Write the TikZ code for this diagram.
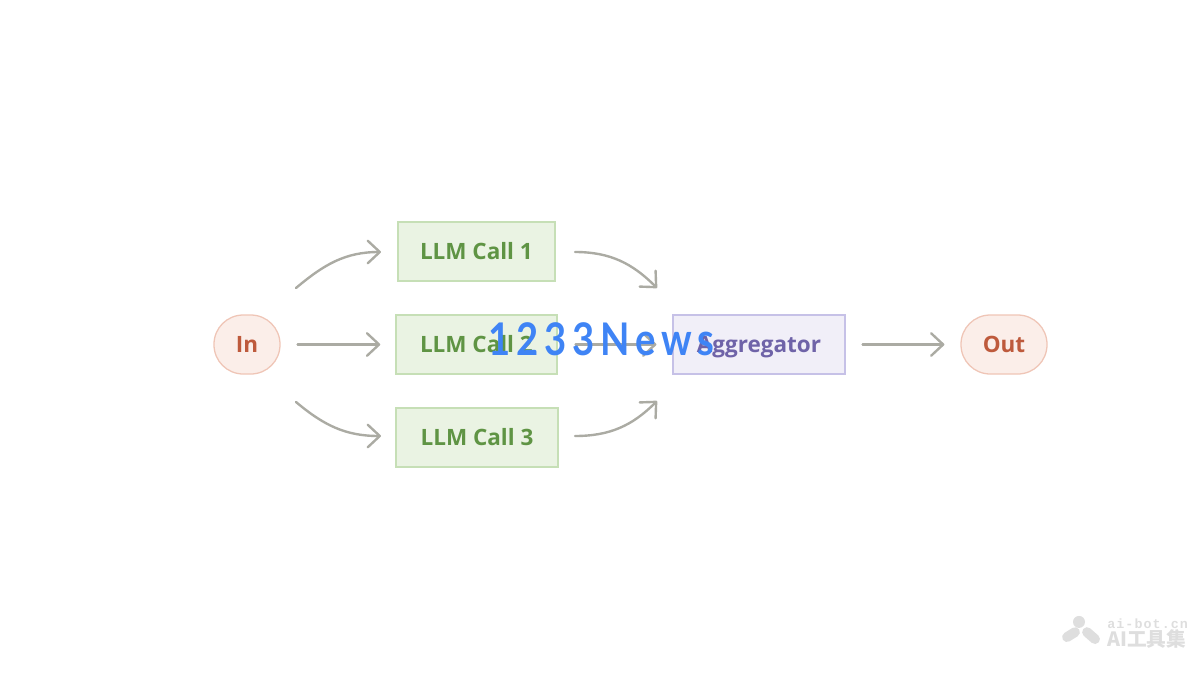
\documentclass[tikz,border=0pt]{standalone}
\usepackage{fontspec}
\setmainfont{Open Sans}
\newfontfamily\cjkfont{Noto Sans CJK SC}
\newfontfamily\markfont[FakeStretch=.85,LetterSpace=13]{Lato}
\newfontfamily\sitefont[LetterSpace=8]{Liberation Mono}
\usetikzlibrary{arrows.meta}
\definecolor{flowgray}{HTML}{ABABA3}
\definecolor{callfill}{HTML}{EAF3E3}
\definecolor{calledge}{HTML}{C6DFB6}
\definecolor{calltext}{HTML}{5F9444}
\definecolor{aggfill}{HTML}{F1EFF8}
\definecolor{aggedge}{HTML}{C6C1E7}
\definecolor{aggtext}{HTML}{6F63A8}
\definecolor{endfill}{HTML}{FBEEE9}
\definecolor{endedge}{HTML}{EFC5B6}
\definecolor{endtext}{HTML}{BE5A3C}
\definecolor{markblue}{HTML}{3F84F5}
\definecolor{sitegray}{HTML}{DEDEDE}
\tikzset{
	flow/.style={draw=flowgray,line width=1.7pt,line cap=round,-{Straight Barb[length=3mm,width=5.6mm,line width=1.7pt,round]}},
	callbox/.style={draw=calledge,fill=callfill,text=calltext,line width=.9pt,minimum height=1.475cm,text height=11pt,text depth=0pt,font=\fontsize{16}{18}\selectfont\bfseries},
	aggbox/.style={draw=aggedge,fill=aggfill,text=aggtext,line width=.9pt,minimum height=1.475cm,text height=11pt,text depth=0pt,font=\fontsize{16}{18}\selectfont\bfseries},
	endbox/.style={draw=endedge,fill=endfill,text=endtext,line width=.9pt,rounded corners=.73cm,minimum height=1.475cm,text height=11pt,text depth=0pt,font=\fontsize{16}{18}\selectfont\bfseries}
}
\begin{document}
\begin{tikzpicture}
		\useasboundingbox (-15,-8.4375) rectangle (15,8.4375);
		\node[endbox,minimum width=1.65cm] (in) at (-8.825,-0.175) {In};
		\node[callbox,minimum width=3.925cm] (call1) at (-3.09,2.15) {LLM Call 1};
		\node[callbox,minimum width=4.025cm] (call2) at (-3.09,-0.175) {LLM Call 2};
		\node[callbox,minimum width=4.05cm] (call3) at (-3.075,-2.5) {LLM Call 3};
		\node[aggbox,minimum width=4.3cm] (agg) at (3.975,-0.175) {Aggregator};
		\node[endbox,minimum width=2.15cm] (out) at (10.1,-0.175) {Out};
		% free ends of the curved arrows
		\coordinate (fan1) at (-7.6,1.2375);
		\coordinate (fan3) at (-7.6,-1.6125);
		\coordinate (into1) at (-5.475,2.1375);
		\coordinate (into3) at (-5.475,-2.4625);
		\coordinate (from1) at (-.625,2.1375);
		\coordinate (from3) at (-.625,-2.4625);
		\coordinate (join1) at (1.425,1.2375);
		\coordinate (join3) at (1.425,-1.5875);
		\draw[flow] (fan1) to[out=40,in=180] (into1);
		\draw[flow] (fan3) to[out=-40,in=180] (into3);
		\draw[flow] (from1) to[out=0,in=135] (join1);
		\draw[flow] (from3) to[out=0,in=-135] (join3);
		\draw[flow,shorten <=.425cm,shorten >=.375cm] (in) -- (call2);
		\draw[flow,shorten <=.45cm,shorten >=.4cm] (call2) -- (agg);
		\draw[flow,shorten <=.425cm,shorten >=.4cm] (agg) -- (out);
		% overlaid marks
		\node[text=markblue,font=\markfont\bfseries\fontsize{32}{38}\selectfont,anchor=base west,inner sep=0pt] (news) at (-2.8,-.45) {1233News};
		\fill[sitegray] (11.975,-7.11) circle (.15);
		\draw[sitegray,line width=7pt,line cap=round] (11.675,-7.49) -- (11.875,-7.365);
		\draw[sitegray,line width=7pt,line cap=round] (12.175,-7.365) -- (12.375,-7.54);
		\node[text=sitegray,font=\sitefont\bfseries\fontsize{9.5}{11}\selectfont,anchor=base west,inner sep=0pt] (site) at (12.675,-7.27) {ai-bot.cn};
		\node[text=sitegray,font=\cjkfont\bfseries\fontsize{14}{16}\selectfont,anchor=base west,inner sep=0pt] (brand) at (12.675,-7.72) {AI工具集};
		\end{tikzpicture}
\end{document}
